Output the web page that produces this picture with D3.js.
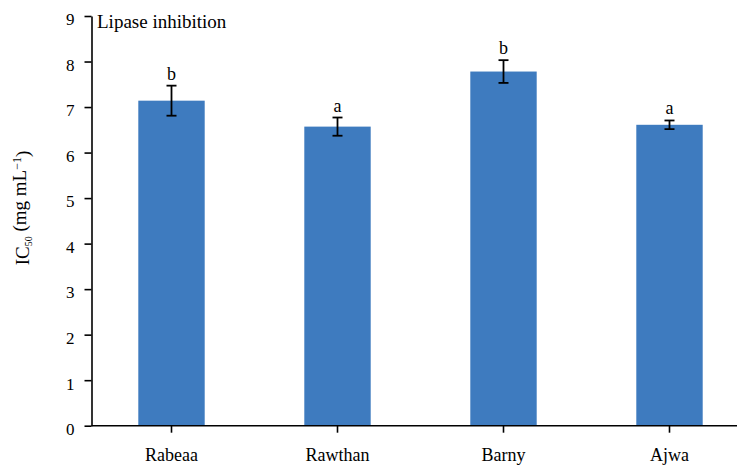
<!DOCTYPE html>
<html>
<head>
<meta charset="utf-8">
<script src="https://cdn.jsdelivr.net/npm/d3@7"></script>
<style>
  html, body { margin: 0; padding: 0; background: #fff; }
  svg { display: block; }
  text { font-family: "Liberation Serif", "Times New Roman", serif; fill: #000; }
</style>
</head>
<body>
<svg id="chart" width="737" height="468"></svg>
<script>
// Lipase inhibition IC50 per date cultivar
const cultivars = ["Rabeaa", "Rawthan", "Barny", "Ajwa"];
const ic50 = [7.14, 6.57, 7.78, 6.61];
const sd = [0.33, 0.20, 0.25, 0.095];
const groups = ["b", "a", "b", "a"];
const yTicks = [0, 1, 2, 3, 4, 5, 6, 7, 8, 9];

const svg = d3.select("#chart");
const plotLeft = 91.5, plotRight = 737, plotTop = 16, plotBottom = 425.7;

const x = d3.scaleBand()
  .domain(cultivars)
  .range([88.5, 752.5])
  .paddingInner(0.6)
  .paddingOuter(0.3);

const y = d3.scaleLinear().domain([0, 9]).range([plotBottom, plotTop]);

// bars
svg.append("g")
  .selectAll("rect")
  .data(cultivars)
  .join("rect")
  .attr("x", d => x(d))
  .attr("width", x.bandwidth())
  .attr("y", (d, i) => y(ic50[i]))
  .attr("height", (d, i) => y(0) - y(ic50[i]))
  .attr("fill", "#3e7bbf");

// error bars
const err = svg.append("g").attr("stroke", "#000").attr("stroke-width", 1.8);
cultivars.forEach((c, i) => {
  const cx = x(c) + x.bandwidth() / 2;
  const y1 = y(ic50[i] + sd[i]), y2 = y(ic50[i] - sd[i]);
  err.append("line").attr("x1", cx).attr("x2", cx).attr("y1", y1).attr("y2", y2);
  err.append("line").attr("x1", cx - 5).attr("x2", cx + 5).attr("y1", y1).attr("y2", y1);
  err.append("line").attr("x1", cx - 5).attr("x2", cx + 5).attr("y1", y2).attr("y2", y2);
});

// significance letters
svg.append("g")
  .selectAll("text")
  .data(cultivars)
  .join("text")
  .attr("x", d => x(d) + x.bandwidth() / 2)
  .attr("y", (d, i) => y(ic50[i] + sd[i]) - 6)
  .attr("text-anchor", "middle")
  .style("font-size", "18px")
  .text((d, i) => groups[i]);

// y axis
const yAxis = svg.append("g")
  .attr("transform", `translate(${plotLeft},0)`)
  .call(d3.axisLeft(y).tickValues(yTicks).tickFormat(d3.format("d")).tickSize(7).tickPadding(10).tickSizeOuter(0));
yAxis.select(".domain").attr("stroke-width", 1.6);
yAxis.selectAll(".tick line").attr("stroke-width", 1.6);
yAxis.selectAll(".tick text").style("font-size", "17px").attr("dy", "0.52em");

// x axis
const xAxis = svg.append("g")
  .attr("transform", `translate(0,${plotBottom})`)
  .call(d3.axisBottom(x).tickSize(7).tickPadding(16).tickSizeOuter(0));
xAxis.select(".domain").attr("d", `M${plotLeft},0H${plotRight}`).attr("stroke-width", 1.6);
xAxis.selectAll(".tick line").attr("stroke-width", 1.6);
xAxis.selectAll(".tick text").style("font-size", "18px");

// panel title
svg.append("text")
  .attr("x", 97)
  .attr("y", 27.7)
  .style("font-size", "19px")
  .text("Lipase inhibition");

// y axis title
const yt = svg.append("text")
  .attr("transform", `translate(29,208) rotate(-90)`)
  .attr("text-anchor", "middle")
  .style("font-size", "19px");
yt.append("tspan").text("IC");
yt.append("tspan").attr("dy", "0.3em").style("font-size", "10px").text("50");
yt.append("tspan").attr("dy", "-0.3em").text(" (mg mL");
yt.append("tspan").attr("dy", "-0.45em").style("font-size", "12px").text("\u22121");
yt.append("tspan").attr("dy", "0.45em").text(")");
</script>
</body>
</html>
